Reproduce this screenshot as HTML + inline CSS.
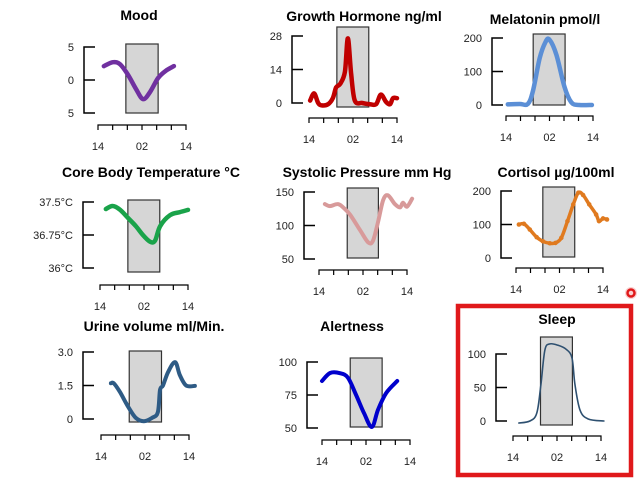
<!DOCTYPE html>
<html><head><meta charset="utf-8"><style>
html,body{margin:0;padding:0;background:#fff;}
svg{display:block;font-family:"Liberation Sans",Arial,sans-serif;}
</style></head><body>
<svg id="c" width="641" height="481" viewBox="0 0 641 481"></svg>
<script>
const moodHours=[15.6,18.1,20,22.2,24.4,26.3,28.2,30.4,32.5,34.7];
const moodValues=[2.1,2.7,2.4,0.76,-1.4,-2.9,-1.8,0.3,1.4,2.1];
const ghHours=[14.3,15.4,16.5,17.5,19.2,20.5,21.4,22.5,23.8,24.6,25.5,26.5,28.5,30.6,32.3,33.6,35,36.1,36.9,38];
const ghValues=[1,4,0,-1,-0.5,2,6.5,8,13,27,12,1,0,-0.5,-0.5,3.5,0.5,-0.5,2,2];
const melHours=[14.5,17.8,20,21.4,23.3,24.9,26,27.9,30.1,32,34.2,37.7];
const melValues=[2,3,3,40,140,188,195,150,55,8,0,0];
const tempHours=[15.6,17.5,19.5,21.6,23.8,25.7,27.6,29,30.4,33.1,35.8,38];
const tempValues=[37.34,37.41,37.32,37.14,36.95,36.75,36.6,36.62,36.95,37.2,37.27,37.32];
const sysHours=[15.6,17,19.2,20.8,22.5,25.2,27.4,28.7,30.1,31.5,32.8,34.7,36.1,36.9,38,39.4];
const sysValues=[132,129,132,126,116,93,75,77,105,138,145,132,127,134,128,140];
const cortHours=[14.8,16.2,17.8,19.7,21.4,23.3,24.9,26.5,28.2,29.8,31.2,32.5,34.2,36.1,36.9,38,39.1];
const cortValues=[100,102,85,62,50,44,45,60,110,160,195,188,160,130,110,118,115];
const urineHours=[16.7,17.5,19.2,21.4,23.5,25.7,27.9,29.5,30.1,30.9,32.3,34.2,35.5,37.2,39.6];
const urineValues=[1.6,1.6,1.2,0.55,0.05,-0.1,0.05,0.3,1.3,1.5,2.1,2.55,1.97,1.5,1.48];
const alertHours=[14,16.2,18.9,21.1,23.3,25.5,27.6,29.3,31.5,34.5];
const alertValues=[85.6,91.7,91.5,88,75,61,50.8,64,76.5,85.6];
const sleepHours=[15.6,18.6,20.5,21.6,22.7,24.1,26.3,28.5,30.1,30.9,32.3,34.5,38.8];
const sleepValues=[-3,0,12,54,106,115,113,107,94,54,16,3,0];
const xTickLabels=["14","02","14"];

const NS="http://www.w3.org/2000/svg";
const svg=document.getElementById('c');
function el(t,a,p){const e=document.createElementNS(NS,t);for(const k in a)e.setAttribute(k,a[k]);(p||svg).appendChild(e);return e;}
function smooth(pts){let d="M"+pts[0][0]+","+pts[0][1];for(let i=0;i<pts.length-1;i++){const p0=pts[i-1]||pts[i],p1=pts[i],p2=pts[i+1],p3=pts[i+2]||p2;
const c1=[p1[0]+(p2[0]-p0[0])/6,p1[1]+(p2[1]-p0[1])/6],c2=[p2[0]-(p3[0]-p1[0])/6,p2[1]-(p3[1]-p1[1])/6];
d+=" C"+c1[0].toFixed(1)+","+c1[1].toFixed(1)+" "+c2[0].toFixed(1)+","+c2[1].toFixed(1)+" "+p2[0].toFixed(1)+","+p2[1].toFixed(1);}return d;}

function panel(o){
  const g=el('g',{});
  
  
  const t=el('text',{x:o.tx,y:o.ty,'text-anchor':'middle','font-size':'14','font-weight':'bold',fill:'#000'},g);
  t.textContent=o.title;
  
  
  const yv=o.yTicks, yp=o.yPix;
  const sy=v=>yp[0]+(v-yv[0])*(yp[yp.length-1]-yp[0])/(yv[yv.length-1]-yv[0]);
  const sx=h=>o.x0+(h-14)*(o.x1-o.x0)/24;
  const r=el('rect',{x:sx(o.sleep[0]),y:o.ry0,width:sx(o.sleep[1])-sx(o.sleep[0]),height:o.ry1-o.ry0,fill:'#d6d6d6',stroke:'#333','stroke-width':1.2},g);
  
  
  const ya=el('path',{d:'M'+(o.ax+11)+','+sy(yv[0])+' H'+o.ax+' V'+sy(yv[yv.length-1])+' H'+(o.ax+11)+(yv.length>2?' M'+o.ax+','+sy(yv[1])+' H'+(o.ax+11):''),fill:'none',stroke:'#000','stroke-width':1.5},g);
  
  
  yv.forEach((v,i)=>{const l=el('text',{x:o.ax-10,y:sy(v)+4,'text-anchor':'end','font-size':'11',fill:'#222'},g);
    l.textContent=o.yLabels[i];
    
    });
  let d='M'+o.x0+','+(o.xy+5)+' V'+o.xy+' H'+o.x1+' V'+(o.xy+5);
  for(let i=1;i<6;i++){const x=o.x0+i*(o.x1-o.x0)/6;d+=' M'+x+','+o.xy+' V'+(o.xy+5);}
  const xa=el('path',{d:d,fill:'none',stroke:'#000','stroke-width':1.2},g);
  
  
  [14,26,38].forEach((h,i)=>{const l=el('text',{x:sx(h),y:o.xy+25,'text-anchor':'middle','font-size':'11',fill:'#222'},g);
    l.textContent=xTickLabels[i];
    
    });
  const pts=o.hours.map((h,i)=>[sx(h),sy(o.values[i])]);
  const p=el('path',{d:smooth(pts),fill:'none',stroke:o.color,'stroke-width':o.lw,'stroke-linecap':'round','stroke-linejoin':'round'},g);
  
  
  if(o.dots){pts.forEach(q=>{const c=el('circle',{cx:q[0],cy:q[1],r:2.3,fill:o.color},g);
    
    });}
}

panel({name:'mood',title:'Mood',tx:139,ty:20,ax:84,yTicks:[5,0,-5],yPix:[47,80,113],yLabels:['5','0','5'],ry0:44,ry1:113,sleep:[21.6,30.4],x0:98,x1:186,xy:125,hours:moodHours,values:moodValues,color:'#7030a0',lw:4.5});
panel({name:'growth-hormone',title:'Growth Hormone ng/ml',tx:364,ty:21,ax:292,yTicks:[28,14,0],yPix:[36,70,103],yLabels:['28','14','0'],ry0:27,ry1:107,sleep:[21.6,30.3],x0:309,x1:397,xy:118,hours:ghHours,values:ghValues,color:'#c00000',lw:4.5});
panel({name:'melatonin',title:'Melatonin pmol/l',tx:545,ty:24,ax:492,yTicks:[200,100,0],yPix:[38,71,105],yLabels:['200','100','0'],ry0:34,ry1:105,sleep:[21.5,30.3],x0:506,x1:593,xy:116,hours:melHours,values:melValues,color:'#5b8fd6',lw:4.5});
panel({name:'core-temperature',title:'Core Body Temperature °C',tx:151,ty:177,ax:83,yTicks:[37.5,36.75,36],yPix:[202,235,268],yLabels:['37.5°C','36.75°C','36°C'],ry0:200,ry1:272,sleep:[21.6,30.3],x0:100,x1:188,xy:285,hours:tempHours,values:tempValues,color:'#1aa34a',lw:4.5});
panel({name:'systolic-pressure',title:'Systolic Pressure mm Hg',tx:367,ty:177,ax:304,yTicks:[150,100,50],yPix:[192,226,259],yLabels:['150','100','50'],ry0:188,ry1:258,sleep:[21.7,30.2],x0:319,x1:407,xy:270,hours:sysHours,values:sysValues,color:'#d89a9a',lw:4});
panel({name:'cortisol',title:'Cortisol µg/100ml',tx:556,ty:177,ax:501,yTicks:[200,100,0],yPix:[191,225,258],yLabels:['200','100','0'],ry0:187,ry1:257,sleep:[21.4,30.2],x0:516,x1:603,xy:268,hours:cortHours,values:cortValues,color:'#e07a1f',lw:3.5,dots:true});
panel({name:'urine-volume',title:'Urine volume ml/Min.',tx:154,ty:331,ax:83,yTicks:[3,1.5,0],yPix:[352,386,419],yLabels:['3.0','1.5','0'],ry0:351,ry1:422,sleep:[21.7,30.5],x0:101,x1:189,xy:435,hours:urineHours,values:urineValues,color:'#2e5b85',lw:4});
panel({name:'alertness',title:'Alertness',tx:352,ty:331,ax:307,yTicks:[100,75,50],yPix:[362,395,428],yLabels:['100','75','50'],ry0:358,ry1:427,sleep:[21.7,30.4],x0:322,x1:410,xy:440,hours:alertHours,values:alertValues,color:'#0000cc',lw:4});
panel({name:'sleep',title:'Sleep',tx:557,ty:324,ax:496,yTicks:[100,50,0],yPix:[354,388,421],yLabels:['100','50','0'],ry0:337,ry1:425,sleep:[21.5,30.2],x0:513,x1:601,xy:436,hours:sleepHours,values:sleepValues,color:'#2e5070',lw:1.6});

const hb=el('rect',{x:458,y:306,width:173,height:169,fill:'none',stroke:'#e0191b','stroke-width':4.5});


const dot=el('circle',{cx:631,cy:293,r:3.5,fill:'none',stroke:'#e0191b','stroke-width':2.5});


const halo=el('circle',{cx:631,cy:293,r:6,fill:'#e0191b','fill-opacity':0.2});


</script>
</body></html>
